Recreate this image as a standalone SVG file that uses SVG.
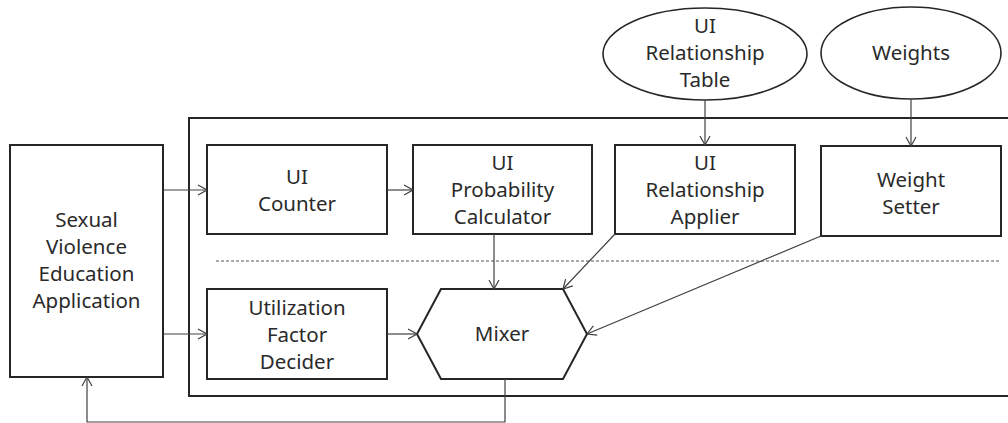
<svg xmlns="http://www.w3.org/2000/svg" width="1008" height="423" viewBox="0 0 1008 423">
<style>
.box{fill:#fff;stroke:#262626;stroke-width:2}
.ell{fill:#fff;stroke:#262626;stroke-width:1.6}
.t{font-family:"Noto Sans","Open Sans","DejaVu Sans",sans-serif;font-size:20.5px;fill:#2a2a2a;text-anchor:middle}
.c{fill:none;stroke:#404040;stroke-width:1.2}
</style>
<defs>
<marker id="a" viewBox="0 0 10 12" refX="10" refY="6" markerWidth="10" markerHeight="12" markerUnits="userSpaceOnUse" orient="auto">
<path d="M1,1 L10,6 L1,11" fill="none" stroke="#404040" stroke-width="1.2"/>
</marker>
</defs>
<rect width="1008" height="423" fill="#fff"/>
<g id="container"><rect class="box" x="189" y="118" width="830" height="278"/></g>
<g id="divider"><line x1="216" y1="261" x2="1000" y2="261" stroke="#555" stroke-width="1" stroke-dasharray="3,2"/></g>
<g id="app"><rect class="box" x="10" y="145" width="153" height="232"/>
<text class="t" x="86.5" y="227">Sexual</text><text class="t" x="86.5" y="254">Violence</text><text class="t" x="86.5" y="281">Education</text><text class="t" x="86.5" y="308">Application</text></g>
<g id="counter"><rect class="box" x="207" y="145" width="180" height="89"/>
<text class="t" x="297" y="184">UI</text><text class="t" x="297" y="211">Counter</text></g>
<g id="prob"><rect class="box" x="413" y="145" width="179" height="89"/>
<text class="t" x="502.5" y="170">UI</text><text class="t" x="502.5" y="197">Probability</text><text class="t" x="502.5" y="224">Calculator</text></g>
<g id="applier"><rect class="box" x="615" y="145" width="180" height="89"/>
<text class="t" x="705" y="170">UI</text><text class="t" x="705" y="197">Relationship</text><text class="t" x="705" y="224">Applier</text></g>
<g id="setter"><rect class="box" x="821" y="146" width="180" height="90"/>
<text class="t" x="911" y="187">Weight</text><text class="t" x="911" y="214">Setter</text></g>
<g id="decider"><rect class="box" x="207" y="289" width="180" height="90"/>
<text class="t" x="297" y="315">Utilization</text><text class="t" x="297" y="342">Factor</text><text class="t" x="297" y="369">Decider</text></g>
<g id="mixer"><polygon class="box" points="417,334 441,289 563,289 587,334 563,379 441,379"/>
<text class="t" x="502" y="341">Mixer</text></g>
<g id="table"><ellipse class="ell" cx="705" cy="54" rx="102" ry="46"/>
<text class="t" x="705" y="33">UI</text><text class="t" x="705" y="60">Relationship</text><text class="t" x="705" y="87">Table</text></g>
<g id="weights"><ellipse class="ell" cx="911" cy="53" rx="90" ry="46"/>
<text class="t" x="911" y="60">Weights</text></g>
<g id="connectors">
<line class="c" x1="705" y1="100" x2="705" y2="145" marker-end="url(#a)"/>
<line class="c" x1="911" y1="99" x2="911" y2="146" marker-end="url(#a)"/>
<line class="c" x1="163" y1="190" x2="207" y2="190" marker-end="url(#a)"/>
<line class="c" x1="387" y1="190" x2="413" y2="190" marker-end="url(#a)"/>
<line class="c" x1="163" y1="334" x2="207" y2="334" marker-end="url(#a)"/>
<line class="c" x1="387" y1="334" x2="417" y2="334" marker-end="url(#a)"/>
<line class="c" x1="494" y1="234" x2="494" y2="289" marker-end="url(#a)"/>
<line class="c" x1="615" y1="234" x2="563" y2="289" marker-end="url(#a)"/>
<line class="c" x1="821" y1="236" x2="587" y2="334" marker-end="url(#a)"/>
<polyline class="c" points="505,379 505,422 87,422 87,377" marker-end="url(#a)"/>
</g>
</svg>
